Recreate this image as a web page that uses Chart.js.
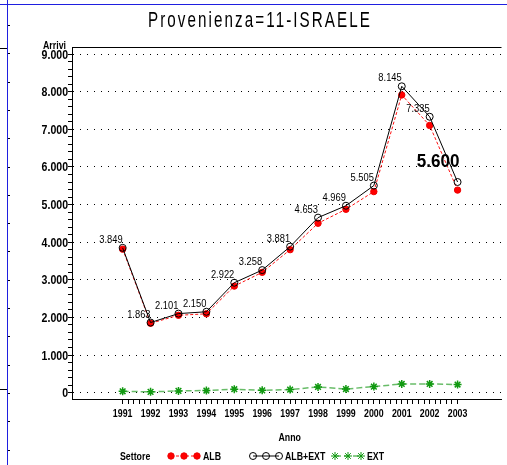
<!DOCTYPE html>
<html>
<head>
<meta charset="utf-8">
<script src="https://cdn.jsdelivr.net/npm/chart.js@4/dist/chart.umd.min.js"></script>
<style>
html, body { margin: 0; padding: 0; background: #fff; overflow: hidden; }
#wrap { width: 507px; height: 465px; }
</style>
</head>
<body>
<div id="wrap"><canvas id="provenienzaChart" width="507" height="465"></canvas></div>
<script>
// Data
const years = [1991, 1992, 1993, 1994, 1995, 1996, 1997, 1998, 1999, 2000, 2001, 2002, 2003];
const albExt = [3849, 1863, 2101, 2150, 2922, 3258, 3881, 4653, 4969, 5505, 8145, 7335, 5600];
const alb = [3814, 1843, 2056, 2095, 2832, 3198, 3801, 4503, 4874, 5345, 7915, 7105, 5385];
const ext = [35, 20, 45, 55, 90, 60, 80, 150, 95, 160, 230, 230, 215];
const yMajorTicks = [0, 1000, 2000, 3000, 4000, 5000, 6000, 7000, 8000, 9000];
const seriesNames = ['ALB', 'ALB+EXT', 'EXT'];

const SANS = '"Liberation Sans", Arial, sans-serif';

// Italian thousands separator
function fmt(v) {
    const s = String(v);
    return s.length > 3 ? s.slice(0, -3) + '.' + s.slice(-3) : s;
}

function toPoints(values) {
    return years.map((yr, i) => ({ x: yr, y: values[i] }));
}

// Draw text squeezed horizontally (the original uses a condensed font).
function squeezed(ctx, text, x, y, font, sx, align) {
    ctx.save();
    ctx.translate(x, y);
    ctx.scale(sx, 1);
    ctx.font = font;
    ctx.textAlign = align;
    ctx.fillText(text, 0, 0);
    ctx.restore();
}

const extrasPlugin = {
    id: 'extras',
    afterDatasetsDraw(chart) {
        const ctx = chart.ctx;
        const meta = chart.getDatasetMeta(1);
        ctx.save();
        ctx.fillStyle = '#000';
        ctx.textBaseline = 'alphabetic';
        meta.data.forEach((pt, i) => {
            if (i === meta.data.length - 1) {
                squeezed(ctx, fmt(albExt[i]), pt.x + 2, pt.y - 15, 'bold 19px ' + SANS, 0.9, 'right');
            } else {
                squeezed(ctx, fmt(albExt[i]), pt.x, pt.y - 5, '11px ' + SANS, 0.85, 'right');
            }
        });
        ctx.restore();
    },
    afterDraw(chart) {
        const ctx = chart.ctx;
        const area = chart.chartArea;
        const xs = chart.scales.x;
        const ys = chart.scales.y;
        ctx.save();

        // top frame line
        ctx.strokeStyle = '#000';
        ctx.lineWidth = 1;
        ctx.beginPath();
        ctx.moveTo(area.left, Math.round(area.top) + 0.5);
        ctx.lineTo(area.right, Math.round(area.top) + 0.5);
        ctx.stroke();

        // page decorations
        ctx.strokeStyle = '#1f1fe0';
        ctx.beginPath();
        ctx.moveTo(7.5, 0);
        ctx.lineTo(7.5, 465);
        ctx.moveTo(0, 4.5);
        ctx.lineTo(507, 4.5);
        ctx.stroke();
        ctx.strokeStyle = '#000';
        ctx.beginPath();
        ctx.moveTo(0, 48.5);
        ctx.lineTo(7, 48.5);
        ctx.moveTo(0, 389.5);
        ctx.lineTo(7, 389.5);
        for (let y = 25; y < 460; y += 28.3) {
            ctx.moveTo(8, Math.round(y) + 0.5);
            ctx.lineTo(10, Math.round(y) + 0.5);
        }
        ctx.stroke();

        ctx.fillStyle = '#000';
        ctx.textBaseline = 'alphabetic';

        // title
        const title = 'Provenienza=11-ISRAELE';
        ctx.font = '22px ' + SANS;
        ctx.letterSpacing = '3px';
        const w = ctx.measureText(title).width;
        ctx.save();
        ctx.translate(148, 27);
        ctx.scale(224 / w, 1);
        ctx.textAlign = 'left';
        ctx.fillText(title, 0, 0);
        ctx.restore();
        ctx.letterSpacing = '0px';

        // axis tick labels, placed through the scales
        years.forEach((yr) => {
            squeezed(ctx, String(yr), xs.getPixelForValue(yr), area.bottom + 18, 'bold 11px ' + SANS, 0.8, 'center');
        });
        yMajorTicks.forEach((v) => {
            squeezed(ctx, fmt(v), area.left - 4, ys.getPixelForValue(v) + 4.5, 'bold 12px ' + SANS, 0.88, 'right');
        });

        // axis captions
        squeezed(ctx, 'Arrivi', 66, 49, 'bold 11px ' + SANS, 0.8, 'right');
        squeezed(ctx, 'Anno', (area.left + area.right) / 2 + 3, 441, 'bold 11px ' + SANS, 0.8, 'center');

        // legend
        const ly = 456;
        squeezed(ctx, 'Settore', 120, ly + 4, 'bold 11px ' + SANS, 0.8, 'left');
        const legendX = [171, 253, 335];
        chart.data.datasets.forEach((ds, i) => {
            const x0 = legendX[i];
            ctx.save();
            ctx.strokeStyle = ds.borderColor;
            ctx.lineWidth = ds.borderWidth;
            ctx.setLineDash(ds.borderDash || []);
            ctx.beginPath();
            ctx.moveTo(x0, ly);
            ctx.lineTo(x0 + 26, ly);
            ctx.stroke();
            ctx.setLineDash([]);
            ctx.strokeStyle = ds.pointBorderColor;
            ctx.fillStyle = ds.pointBackgroundColor;
            ctx.lineWidth = 1;
            for (let k = 0; k < 3; k++) {
                Chart.helpers.drawPoint(ctx, {
                    pointStyle: ds.pointStyle,
                    radius: ds.pointRadius,
                    borderWidth: 1,
                    rotation: 0
                }, x0 + k * 13, ly);
            }
            ctx.restore();
            ctx.fillStyle = '#000';
            squeezed(ctx, seriesNames[i], x0 + 32, ly + 4, 'bold 11px ' + SANS, 0.8, 'left');
        });
        ctx.restore();
    }
};

const chart = document.getElementById('provenienzaChart');
new Chart(chart, {
    type: 'line',
    data: {
        datasets: [{
            label: seriesNames[0],
            data: toPoints(alb),
            borderColor: '#ff1010',
            borderWidth: 1,
            borderDash: [3, 2],
            pointStyle: 'circle',
            pointRadius: 3.2,
            pointBackgroundColor: '#ff0000',
            pointBorderColor: '#ee0000',
            order: 1
        }, {
            label: seriesNames[1],
            data: toPoints(albExt),
            borderColor: '#000000',
            borderWidth: 1,
            pointStyle: 'circle',
            pointRadius: 3.5,
            pointBackgroundColor: 'rgba(0,0,0,0)',
            pointBorderColor: '#000000',
            order: 0
        }, {
            label: seriesNames[2],
            data: toPoints(ext),
            borderColor: 'rgba(40,160,40,0.7)',
            borderWidth: 1.5,
            borderDash: [6, 3],
            pointStyle: 'star',
            pointRadius: 4,
            pointBackgroundColor: '#119911',
            pointBorderColor: '#119911',
            order: 2
        }]
    },
    options: {
        responsive: false,
        animation: false,
        layout: {
            padding: { left: 0, top: 47, right: 0, bottom: 20 }
        },
        scales: {
            x: {
                type: 'linear',
                min: 1989.185,
                max: 2004.574,
                afterBuildTicks: (scale) => {
                    const t = [];
                    for (let k = 0; k <= 60; k++) {
                        t.push({ value: years[0] + k * 0.2 });
                    }
                    scale.ticks = t;
                },
                afterFit: (scale) => { scale.height = 46; },
                grid: {
                    drawOnChartArea: false,
                    tickLength: 5,
                    tickColor: '#000',
                    tickWidth: 1
                },
                border: { color: '#000', width: 1 },
                ticks: { display: false }
            },
            y: {
                min: -170,
                max: 9190,
                afterBuildTicks: (scale) => {
                    const t = [];
                    for (let v = yMajorTicks[0]; v <= yMajorTicks[yMajorTicks.length - 1]; v += 200) {
                        t.push({ value: v });
                    }
                    scale.ticks = t;
                },
                afterFit: (scale) => { scale.width = 72; },
                grid: {
                    color: (c) => (c.tick && yMajorTicks.includes(c.tick.value)) ? '#000' : 'rgba(0,0,0,0)',
                    lineWidth: 1,
                    tickLength: 4,
                    tickColor: '#000',
                    tickWidth: 1,
                    tickBorderDash: []
                },
                border: { color: '#000', width: 1, dash: [1, 6] },
                ticks: { display: false }
            }
        },
        plugins: {
            legend: { display: false },
            title: { display: false },
            tooltip: { enabled: false }
        }
    },
    plugins: [extrasPlugin]
});
</script>
</body>
</html>
